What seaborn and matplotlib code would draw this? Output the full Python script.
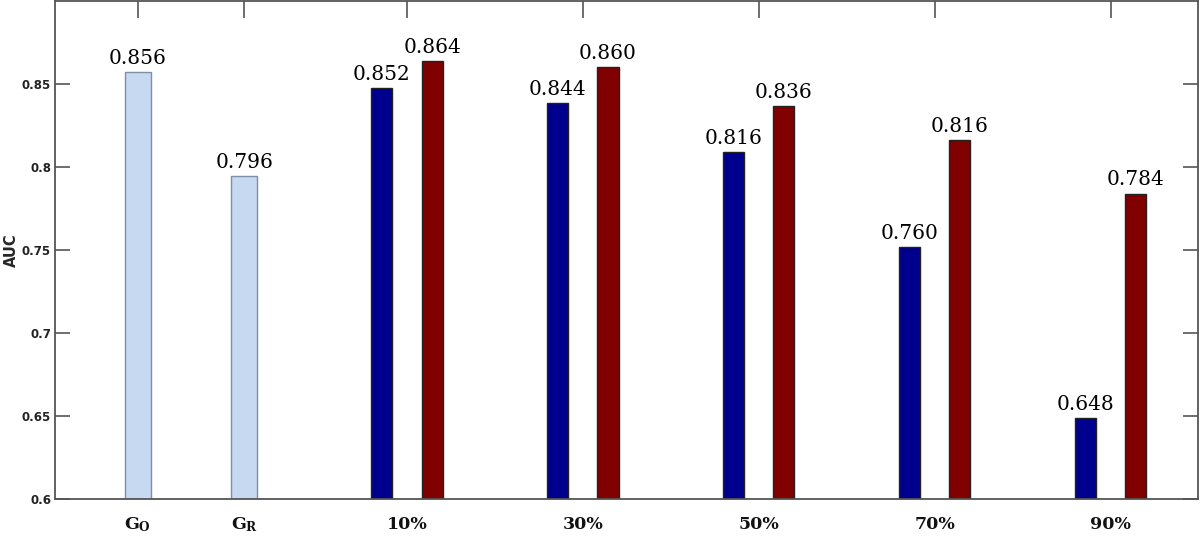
import matplotlib
matplotlib.use("Agg")
import matplotlib.pyplot as plt
import seaborn as sns
import pandas as pd
import numpy as np

# ---- data ----
base_cats = ["G_O", "G_R"]
base_vals = [0.8574, 0.7948]
base_labels = ["0.856", "0.796"]

groups = ["10%", "30%", "50%", "70%", "90%"]
blue_vals = [0.8476, 0.8386, 0.8090, 0.7518, 0.6488]
red_vals = [0.8639, 0.8602, 0.8367, 0.8163, 0.7840]
blue_labels = ["0.852", "0.844", "0.816", "0.760", "0.648"]
red_labels = ["0.864", "0.860", "0.836", "0.816", "0.784"]

yticks = [0.6, 0.65, 0.7, 0.75, 0.8, 0.85]
ytick_labels = ["0.6", "0.65", "0.7", "0.75", "0.8", "0.85"]

# ---- layout ----
base_pos = [-0.53, 0.075]
group_pos = [1, 2, 3, 4, 5]
off = 0.143
bar_w = 0.12
base_w = 0.15

sns.set_theme(style="white")
plt.rcParams["mathtext.fontset"] = "dejavuserif"

fig = plt.figure(figsize=(12, 5.4), dpi=100)
ax = fig.add_axes([0.046, 0.076, 0.952, 0.922])

df_base = pd.DataFrame({"x": base_pos, "v": base_vals})
df_blue = pd.DataFrame({"x": [p - off for p in group_pos], "v": blue_vals})
df_red = pd.DataFrame({"x": [p + off for p in group_pos], "v": red_vals})

spacing_base = base_pos[1] - base_pos[0]
sns.barplot(data=df_base, x="x", y="v", native_scale=True, ax=ax,
            color="#c6d9f0", saturation=1, width=base_w / spacing_base,
            edgecolor="#7d8fa8", linewidth=1.0, errorbar=None)
sns.barplot(data=df_blue, x="x", y="v", native_scale=True, ax=ax,
            color="#00008f", saturation=1, width=bar_w,
            edgecolor="#222222", linewidth=1.0, errorbar=None)
sns.barplot(data=df_red, x="x", y="v", native_scale=True, ax=ax,
            color="#800000", saturation=1, width=bar_w,
            edgecolor="#222222", linewidth=1.0, errorbar=None)

lab_font = dict(family="DejaVu Serif", fontsize=14.5, color="black")
for x, v, t in zip(base_pos, base_vals, base_labels):
    ax.annotate(t, (x, v), xytext=(0, 3), textcoords="offset points",
                ha="center", va="bottom", **lab_font)
for x, v, t in zip(group_pos, blue_vals, blue_labels):
    ax.annotate(t, (x - off, v), xytext=(0, 3), textcoords="offset points",
                ha="center", va="bottom", **lab_font)
for x, v, t in zip(group_pos, red_vals, red_labels):
    ax.annotate(t, (x + off, v), xytext=(0, 3), textcoords="offset points",
                ha="center", va="bottom", **lab_font)

ax.set_xlim(-1.0, 5.495)
ax.set_ylim(0.6, 0.9)

ax.set_yticks(yticks)
ax.set_yticklabels(ytick_labels, fontfamily="DejaVu Sans", fontweight="bold",
                   fontsize=8.5, color="#222222")
ax.tick_params(axis="y", direction="in", length=11, width=1.2, color="#555555",
               left=True, right=True, pad=3)

all_pos = base_pos + group_pos
xlabels = [r"$\mathbf{G}_{\mathbf{O}}$", r"$\mathbf{G}_{\mathbf{R}}$"] + groups
ax.set_xticks(all_pos)
ax.set_xticklabels(xlabels, fontfamily="DejaVu Serif", fontweight="bold",
                   fontsize=12.5, color="#111111")
ax.tick_params(axis="x", which="major", length=0, pad=12, bottom=True)
ax.set_xticks(group_pos, minor=True)
ax.tick_params(axis="x", which="minor", direction="in", length=12, width=1.2,
               color="#555555", bottom=True)

top = ax.secondary_xaxis("top")
top.set_xticks(all_pos)
top.set_xticklabels([])
top.tick_params(direction="in", length=12, width=1.2, color="#555555")
top.spines["top"].set_visible(False)

ax.set_xlabel("")
ax.set_ylabel("AUC", fontfamily="DejaVu Sans", fontweight="bold", fontsize=10.5,
              labelpad=2)

for s in ax.spines.values():
    s.set_visible(True)
    s.set_color("#555555")
    s.set_linewidth(1.3)

fig.savefig("out.png", dpi=100)
